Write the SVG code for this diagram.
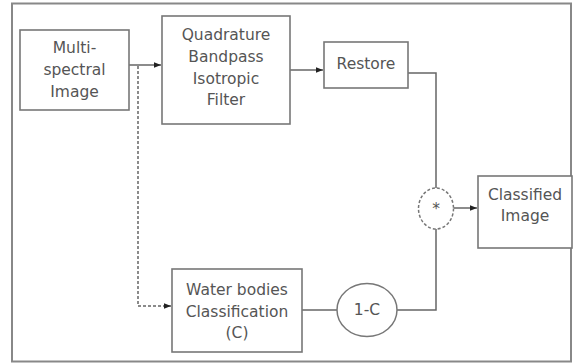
<svg xmlns="http://www.w3.org/2000/svg" width="573" height="364" viewBox="0 0 573 364">
<style>
.box{fill:#fff;stroke:#777;stroke-width:1.6}
.t{font-family:"DejaVu Sans",Verdana,sans-serif;font-size:15.5px;fill:#555;text-anchor:middle}
.c{fill:none;stroke:#666;stroke-width:1.5}
.d{fill:none;stroke:#666;stroke-width:1.5;stroke-dasharray:3 2}
</style>
<defs>
<marker id="ah" viewBox="0 0 10 10" refX="10" refY="5" markerWidth="7" markerHeight="7" orient="auto" markerUnits="userSpaceOnUse">
<path d="M0,1 L10,5 L0,9 Z" fill="#222"/>
</marker>
</defs>
<rect x="0" y="0" width="573" height="364" fill="#fff"/>
<rect x="12" y="3.5" width="559" height="358" fill="none" stroke="#888" stroke-width="2"/>
<g id="connectors">
<path class="c" d="M129,65 H161" marker-end="url(#ah)"/>
<path class="c" d="M290,70 H323" marker-end="url(#ah)"/>
<path class="c" d="M408,73 H436 V188"/>
<path class="c" d="M453.5,208 H477" marker-end="url(#ah)"/>
<path class="c" d="M302,310 H337"/>
<path class="c" d="M397,310 H436 V229"/>
<path class="d" d="M138,66 V306 H171" marker-end="url(#ah)"/>
</g>
<g id="multispectral">
<rect class="box" x="20" y="30" width="109" height="80"/>
<text class="t" x="74.5" y="53">Multi-</text>
<text class="t" x="74.5" y="75">spectral</text>
<text class="t" x="74.5" y="97">Image</text>
</g>
<g id="quadrature">
<rect class="box" x="162" y="16" width="128" height="108"/>
<text class="t" x="226" y="40">Quadrature</text>
<text class="t" x="226" y="62">Bandpass</text>
<text class="t" x="226" y="84">Isotropic</text>
<text class="t" x="226" y="105">Filter</text>
</g>
<g id="restore">
<rect class="box" x="324" y="42" width="84" height="46"/>
<text class="t" x="366" y="69">Restore</text>
</g>
<g id="multiply">
<ellipse cx="436" cy="208.5" rx="17.5" ry="20.5" fill="#fff" stroke="#777" stroke-width="1.5" stroke-dasharray="3 2"/>
<text class="t" x="436" y="214">*</text>
</g>
<g id="classified">
<rect class="box" x="478" y="176" width="94" height="72"/>
<text class="t" x="525" y="200">Classified</text>
<text class="t" x="525" y="221">Image</text>
</g>
<g id="water">
<rect class="box" x="172" y="269" width="130" height="83"/>
<text class="t" x="237" y="295">Water bodies</text>
<text class="t" x="237" y="317">Classification</text>
<text class="t" x="237" y="338">(C)</text>
</g>
<g id="oneminusc">
<ellipse cx="367" cy="310" rx="30" ry="26.5" fill="#fff" stroke="#777" stroke-width="1.5"/>
<text class="t" x="367" y="315">1-C</text>
</g>
</svg>
